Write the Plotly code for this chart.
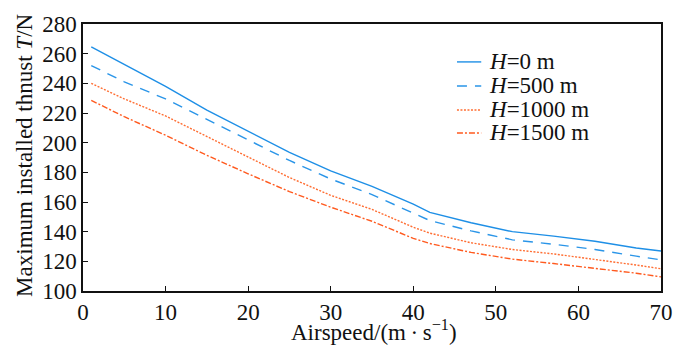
import plotly.graph_objects as go

airspeed = [1, 5, 10, 15, 20, 25, 30, 35, 40, 42, 47, 52, 57, 62, 67, 70]
t_h0    = [264.5, 252.5, 238.0, 222.0, 207.5, 193.5, 181.0, 170.5, 158.5, 153.0, 146.0, 140.0, 137.0, 133.5, 129.0, 127.0]
t_h500  = [252.0, 241.0, 229.5, 215.5, 201.5, 188.0, 175.5, 165.0, 152.5, 147.5, 140.5, 134.5, 131.5, 128.0, 123.5, 121.0]
t_h1000 = [240.0, 229.5, 218.0, 204.0, 190.0, 176.5, 164.5, 155.0, 143.0, 139.0, 132.5, 128.0, 125.0, 121.5, 117.5, 115.0]
t_h1500 = [228.5, 217.5, 205.0, 191.5, 179.0, 167.0, 156.5, 147.0, 135.5, 132.0, 126.0, 121.5, 118.5, 115.5, 112.0, 109.5]

series_names = ["<i>H</i>=0 m", "<i>H</i>=500 m", "<i>H</i>=1000 m", "<i>H</i>=1500 m"]
series_vals = [t_h0, t_h500, t_h1000, t_h1500]
colors = ["#1E8FE6", "#2A95E8", "#FF6E33", "#FF5A1F"]
dashes = ["solid", "10px,8px", "2px,1.5px", "6px,2px,2px,2px"]

x_title = "Airspeed/(m\u2009·\u2009s<sup>−1</sup>)"
y_title = "Maximum installed thnust <i>T</i>/N"

font = "Liberation Serif"
ink = "#111"
fig = go.Figure()
for name, vals, color, dash in zip(series_names, series_vals, colors, dashes):
    fig.add_trace(go.Scatter(x=airspeed, y=vals, mode="lines", name=name,
                             showlegend=False,
                             line=dict(color=color, width=1.4, dash=dash)))

# manual legend (tight row spacing like the reference)
leg_y = [0.858, 0.768, 0.678, 0.592]
for name, color, dash, ly in zip(series_names, colors, dashes, leg_y):
    fig.add_shape(type="line", xref="paper", yref="paper",
                  x0=0.647, x1=0.689, y0=ly, y1=ly,
                  line=dict(color=color, width=1.4, dash=dash))
    fig.add_annotation(xref="paper", yref="paper", x=0.699, y=ly,
                       xanchor="left", yanchor="middle", text=name,
                       showarrow=False, font=dict(family=font, size=23, color=ink))

# axis titles
fig.add_annotation(xref="paper", yref="paper", x=0.503, y=0, yanchor="middle",
                   yshift=-39, text=x_title, showarrow=False,
                   font=dict(family=font, size=23, color=ink))
fig.add_annotation(xref="paper", yref="paper", x=0, y=0.506, xanchor="center",
                   yanchor="middle", xshift=-58, textangle=-90, text=y_title,
                   showarrow=False, font=dict(family=font, size=23, color=ink))

fig.update_layout(
    width=672, height=338,
    margin=dict(l=75, r=19, t=16, b=55),
    paper_bgcolor="white", plot_bgcolor="white",
    font=dict(family=font, size=23, color=ink),
    showlegend=False,
    xaxis=dict(range=[0, 70], tickvals=[0, 10, 20, 30, 40, 50, 60, 70],
               ticks="inside", ticklen=5, tickcolor=ink, tickwidth=1.2,
               showline=True, linecolor=ink, linewidth=1.5, mirror=True,
               showgrid=False, zeroline=False, automargin=False),
    yaxis=dict(range=[100, 280], tickvals=list(range(100, 281, 20)),
               ticks="inside", ticklen=5, tickcolor=ink, tickwidth=1.2,
               showline=True, linecolor=ink, linewidth=1.5, mirror=True,
               showgrid=False, zeroline=False, automargin=False),
)

fig.write_html("out.html")
